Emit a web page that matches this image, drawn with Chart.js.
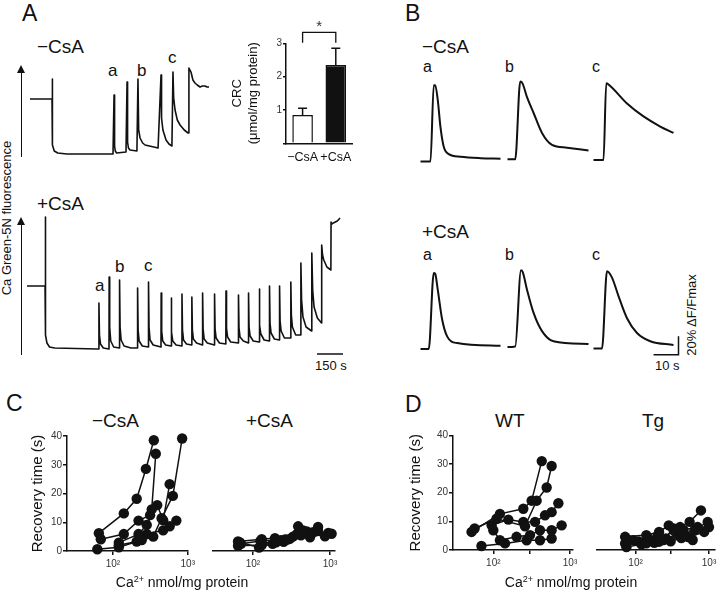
<!DOCTYPE html>
<html>
<head>
<meta charset="utf-8">
<script src="https://cdn.jsdelivr.net/npm/chart.js@4.4.1/dist/chart.umd.min.js"></script>
<style>
  body { margin: 0; background: #fff; }
  #fig { position: relative; width: 720px; height: 591px; overflow: hidden; background: #fff;
         font-family: 'Liberation Sans', Arial, Helvetica, sans-serif; color: #111; }
  #fig canvas, .t, .rot, .arrow { position: absolute; }
  .t { line-height: 1; white-space: nowrap; }
  .rot { line-height: 1; white-space: nowrap; transform: translate(-50%, -50%) rotate(-90deg); }
  .arrow { width: 0; border-left: 1.6px solid #111; }
  .arrow::before { content: ''; position: absolute; left: -4.8px; top: -8px; border-left: 4px solid transparent;
                   border-right: 4px solid transparent; border-bottom: 8px solid #111; }
  .xt { text-align: center; width: 200px; font-size: 14px; }
  sup { font-size: 9px; vertical-align: 5px; }
</style>
</head>
<body>
<div id="fig">
  <!-- panel A -->
  <div class="t" style="left:22px;top:2px;font-size:23px">A</div>
  <div class="t" style="left:37px;top:37px;font-size:19px">−CsA</div>
  <div class="t" style="left:37px;top:194px;font-size:19px">+CsA</div>
  <div class="t" style="left:108px;top:62px;font-size:17px">a</div>
  <div class="t" style="left:137px;top:62px;font-size:17px">b</div>
  <div class="t" style="left:168px;top:49px;font-size:17px">c</div>
  <div class="t" style="left:95px;top:277px;font-size:17px">a</div>
  <div class="t" style="left:115px;top:258px;font-size:17px">b</div>
  <div class="t" style="left:144px;top:257px;font-size:17px">c</div>
  <div class="rot" style="left:6px;top:218px;font-size:13px">Ca Green-5N fluorescence</div>
  <div class="arrow" style="left:21.2px;top:73px;height:84px"></div>
  <div class="arrow" style="left:21.2px;top:225px;height:130px"></div>
  <div class="t" style="left:315px;top:359px;font-size:13px">150 s</div>
  <canvas id="aMinus" width="185" height="100" style="left:30px;top:60px"></canvas>
  <canvas id="aPlus" width="320" height="145" style="left:27px;top:210px"></canvas>
  <canvas id="crc" width="140" height="150" style="left:220px;top:20px"></canvas>

  <!-- panel B -->
  <div class="t" style="left:405px;top:2px;font-size:23px">B</div>
  <div class="t" style="left:422px;top:37px;font-size:19px">−CsA</div>
  <div class="t" style="left:422px;top:222px;font-size:19px">+CsA</div>
  <div class="t" style="left:423px;top:59px;font-size:16px">a</div>
  <div class="t" style="left:505px;top:59px;font-size:16px">b</div>
  <div class="t" style="left:592px;top:59px;font-size:16px">c</div>
  <div class="t" style="left:423px;top:247px;font-size:16px">a</div>
  <div class="t" style="left:505px;top:247px;font-size:16px">b</div>
  <div class="t" style="left:592px;top:247px;font-size:16px">c</div>
  <div class="t" style="left:655px;top:359px;font-size:13px">10 s</div>
  <div class="rot" style="left:691px;top:315px;font-size:13px">20% ΔF/Fmax</div>
  <canvas id="bMinusA" width="85" height="101" style="left:417.5px;top:65px"></canvas>
  <canvas id="bMinusB" width="85" height="101" style="left:504.8px;top:65px"></canvas>
  <canvas id="bMinusC" width="85" height="101" style="left:590.8px;top:65px"></canvas>
  <canvas id="bPlusA" width="85" height="106" style="left:417.5px;top:250px"></canvas>
  <canvas id="bPlusB" width="85" height="106" style="left:504.8px;top:250px"></canvas>
  <canvas id="bPlusC" width="90" height="106" style="left:590.8px;top:250px"></canvas>

  <!-- panels C and D -->
  <div class="t" style="left:6px;top:392px;font-size:23px">C</div>
  <div class="t" style="left:92px;top:411px;font-size:19px">−CsA</div>
  <div class="t" style="left:246px;top:411px;font-size:19px">+CsA</div>
  <div class="t" style="left:405px;top:393px;font-size:23px">D</div>
  <div class="t" style="left:495px;top:411px;font-size:19px">WT</div>
  <div class="t" style="left:642px;top:411px;font-size:19px">Tg</div>
  <canvas id="cMinus" width="180" height="164" style="left:18px;top:426px"></canvas>
  <canvas id="cPlus" width="140" height="164" style="left:205px;top:426px"></canvas>
  <canvas id="dWT" width="183" height="165" style="left:400px;top:425px"></canvas>
  <canvas id="dTg" width="130" height="165" style="left:590px;top:425px"></canvas>
  <div class="t xt" style="left:82px;top:575px">Ca<sup>2+</sup> nmol/mg protein</div>
  <div class="t xt" style="left:471px;top:575px">Ca<sup>2+</sup> nmol/mg protein</div>
</div>

<script>
// ---- A: Ca Green-5N traces, [time (s), fluorescence (a.u.)]
const traceAMinus = [
  [0, 61], [127, 61], [127, 81], [130, 81], [131, 15], [140, 9], [160, 7], [213, 6],
  [479, 6], [485, 65], [488, 14], [492, 9], [500, 7], [554, 8],
  [560, 78], [563, 18], [568, 12], [577, 10], [617, 9],
  [623, 81], [627, 30], [635, 22], [650, 17], [664, 15], [739, 12],
  [756, 85], [759, 42], [767, 30], [785, 20], [802, 16], [819, 14],
  [825, 88], [829, 62], [837, 50], [850, 40], [866, 35], [890, 30], [912, 27],
  [917, 92], [923, 90], [929, 88], [940, 80], [952, 77], [965, 75], [981, 73],
  [995, 74], [1010, 74], [1022, 73], [1033, 73]
];
const traceAPlus = [
  [0, 69], [104, 69], [105, 138], [107, 138], [108, 20], [115, 12], [130, 8], [160, 7], [404, 6],
  [414, 6], [415, 52], [418, 20], [424, 11], [440, 7], [473, 6],
  [474, 78], [477, 28], [483, 14], [500, 8], [533, 7],
  [534, 75], [537, 28], [543, 15], [560, 9], [600, 7], [637, 7],
  [638, 67], [641, 25], [647, 14], [665, 9], [700, 8],
  [701, 73], [704, 28], [710, 15], [728, 10], [773, 8],
  [774, 62], [777, 24], [783, 14], [800, 10], [831, 9],
  [832, 57], [835, 23], [841, 14], [860, 10], [893, 9],
  [894, 61], [897, 25], [903, 15], [920, 11], [950, 10],
  [951, 58], [954, 25], [960, 16], [978, 12], [1012, 10],
  [1013, 62], [1016, 26], [1022, 16], [1040, 12], [1081, 10],
  [1082, 61], [1085, 26], [1091, 17], [1110, 12], [1147, 11],
  [1148, 64], [1151, 27], [1157, 18], [1175, 13], [1219, 12],
  [1220, 60], [1223, 27], [1229, 18], [1248, 14], [1277, 12],
  [1278, 62], [1281, 28], [1287, 19], [1305, 14], [1339, 13],
  [1340, 66], [1343, 30], [1349, 21], [1368, 15], [1398, 14],
  [1399, 69], [1402, 32], [1408, 22], [1427, 16], [1456, 15],
  [1457, 69], [1460, 34], [1466, 24], [1485, 17], [1521, 17],
  [1522, 73], [1525, 40], [1531, 28], [1550, 20], [1579, 20],
  [1580, 92], [1584, 55], [1592, 38], [1610, 28], [1642, 24],
  [1643, 102], [1648, 65], [1656, 48], [1675, 37], [1699, 32],
  [1700, 110], [1705, 100], [1712, 95], [1730, 88], [1753, 85],
  [1754, 133], [1760, 131], [1767, 132], [1790, 134], [1806, 137]
];
const timeBar150 = [1673, 1823, 1];   // from, to, level

// ---- A inset: CRC (µmol/mg protein)
const crcLabels = ['−CsA', '+CsA'];
const crcMeans = [0.85, 2.35];
const crcErrors = [0.2, 0.5];
const sigBracket = { top: 3.33, leg: 3.02, star: 3.36 };

// ---- B: single transients, [time (s), %ΔF/Fmax]
const traceBMinusA = [[0, 0], [4, 0], [5.3, 83], [5.9, 83], [6.9, 67], [8, 37], [9.3, 16], [11.3, 8], [16, 5], [24, 3.5], [32, 3]];
const traceBMinusB = [[0, 2.3], [3.1, 2.3], [5.1, 87], [6, 85], [7.8, 70], [10.4, 53], [13.8, 31], [17.8, 18], [23.8, 15], [32.4, 12]];
const traceBMinusC = [[0, 1.5], [4, 1.5], [5.1, 85], [6.7, 82], [13.4, 63], [20, 49], [26.7, 38], [32, 31]];
const traceBPlusA = [[0, -2.5], [3.3, -2.5], [5.3, 80], [5.9, 79], [6.9, 62], [8.7, 29], [10.7, 11], [14.7, 4], [32, 1]];
const traceBPlusB = [[0, -0.3], [3.1, 0.3], [5.4, 83], [6.1, 81], [7.8, 62], [10.4, 37], [13.8, 17], [18.4, 6], [32.4, 3]];
const traceBPlusC = [[0, -1.9], [3.4, -1.9], [5.4, 82], [7.4, 75], [10, 55], [13.4, 31], [17.4, 15], [22.7, 6], [32, 2]];
const scaleBarB = { t0: 24, t1: 34, y0: -8.7, y1: 11.3 };  // 10 s, 20 %

// ---- C: recovery time (s) vs Ca2+ load (nmol/mg protein)
const cMinus1 = [[65, 6.2], [140, 13.1], [208, 18.2], [276, 28.6], [352, 38.6]];
const cMinus2 = [[69, 4.1], [140, 5.9], [220, 10.6], [314, 12.5], [330, 14.5], [374, 33.9]];
const cMinus3 = [[120, 2.9], [220, 5.9], [283, 9.1], [391, 16.0], [469, 10.7], [573, 23.3]];
const cMinus4 = [[62, 0.6], [120, 1.3], [243, 3.8], [346, 5.0], [447, 11.4], [632, 19.2], [841, 39.2]];
const cMinus5 = [[120, 2.0], [208, 3.3], [284, 5.9], [469, 7.2], [573, 8.6], [704, 10.6]];
const cPlus1 = [[64, 3.3], [130, 4.1], [193, 4.5], [274, 3.9], [386, 8.6], [448, 7.2], [700, 8.4]];
const cPlus2 = [[64, 1.8], [130, 2.1], [200, 3.0], [300, 4.2], [420, 5.5], [600, 6.5], [1050, 6.0]];
const cPlus3 = [[70, 2.5], [125, 3.5], [230, 3.8], [330, 5.0], [500, 6.8], [860, 5.1]];
const cPlus4 = [[68, 3.0], [120, 1.2], [180, 2.5], [260, 4.0], [370, 5.8], [700, 7.0]];
const cPlus5 = [[130, 2.8], [250, 3.2], [400, 6.2], [550, 4.8], [950, 6.3]];

// ---- D: WT and Tg
const dWT1 = [[52, 6.3], [122, 12.6], [246, 14.4], [316, 17.2], [428, 31.0]];
const dWT2 = [[57, 7.5], [110, 10.9], [259, 8.3], [367, 17.2], [496, 21.8], [576, 29.3]];
const dWT3 = [[95, 8.6], [157, 10.6], [246, 9.8], [350, 9.8], [472, 12.1], [576, 13.2], [705, 16.3]];
const dWT4 = [[100, 6.9], [122, 3.4], [201, 4.6], [301, 5.2], [406, 6.9], [576, 6.9], [778, 8.6]];
const dWT5 = [[70, 1.4], [142, 2.3], [272, 3.4], [406, 3.4], [576, 4.0]];
const dTg1 = [[72, 4.6], [140, 5.2], [209, 6.3], [283, 8.6], [404, 8.0], [545, 9.8], [777, 13.8]];
const dTg2 = [[72, 2.3], [93, 3.4], [140, 2.3], [209, 2.9], [329, 6.9], [446, 5.7], [635, 6.9], [960, 9.8]];
const dTg3 = [[75, 1.0], [120, 2.0], [180, 2.5], [260, 4.0], [370, 5.5], [520, 4.5], [860, 6.3]];
const dTg4 = [[80, 3.5], [150, 4.0], [240, 3.5], [330, 7.5], [450, 7.0], [700, 8.0], [1000, 8.0]];
const dTg5 = [[110, 3.0], [200, 5.0], [300, 3.0], [420, 4.2], [600, 3.5]];

const logTicksC = [100, 1000];
const logTicksD = [100, 300, 1000];

Chart.defaults.font.family = "'Liberation Sans', Arial, Helvetica, sans-serif";
Chart.defaults.color = '#111';
Chart.defaults.responsive = false;
Chart.defaults.maintainAspectRatio = false;
Chart.defaults.animation = false;
Chart.defaults.plugins.legend.display = false;
Chart.defaults.plugins.tooltip.enabled = false;

const ink = '#111';
const toXY = pts => pts.map(p => ({ x: p[0], y: p[1] }));

function barPlugin(bar) {
  return {
    id: 'scaleBar',
    afterDraw(chart) {
      const { ctx, scales: { x, y } } = chart;
      ctx.save();
      ctx.strokeStyle = ink;
      ctx.lineWidth = 1.5;
      ctx.beginPath();
      ctx.moveTo(x.getPixelForValue(bar.t0), y.getPixelForValue(bar.y0));
      ctx.lineTo(x.getPixelForValue(bar.t1), y.getPixelForValue(bar.y0));
      if (bar.y1 !== undefined) ctx.lineTo(x.getPixelForValue(bar.t1), y.getPixelForValue(bar.y1));
      ctx.stroke();
      ctx.restore();
    }
  };
}

// smooth = true for the B transients (strictly increasing time), false for A (has vertical steps)
function traceChart(id, pts, xr, yr, width, smooth, extra) {
  return new Chart(document.getElementById(id), {
    type: 'line',
    data: {
      datasets: [{
        data: toXY(pts),
        borderColor: ink,
        borderWidth: width,
        pointRadius: 0,
        tension: 0,
        cubicInterpolationMode: smooth ? 'monotone' : 'default',
        borderJoinStyle: 'round',
        clip: false
      }]
    },
    options: {
      devicePixelRatio: 1,
      layout: { padding: 0 },
      scales: {
        x: { type: 'linear', display: false, min: xr[0], max: xr[1] },
        y: { type: 'linear', display: false, min: yr[0], max: yr[1] }
      }
    },
    plugins: extra ? [extra] : []
  });
}

// A traces
traceChart('aMinus', traceAMinus, [0, 1067.5], [0, 100], 1.6, false);
traceChart('aPlus', traceAPlus, [0, 1846], [0, 145], 1.6, false,
  barPlugin({ t0: timeBar150[0], t1: timeBar150[1], y0: timeBar150[2] }));

// B transients
traceChart('bMinusA', traceBMinusA, [-1, 33], [-5, 105], 2, true);
traceChart('bMinusB', traceBMinusB, [-1, 33], [-5, 105], 2, true);
traceChart('bMinusC', traceBMinusC, [-1, 33], [-5, 105], 2, true);
traceChart('bPlusA', traceBPlusA, [-1, 33], [-10, 105], 2, true);
traceChart('bPlusB', traceBPlusB, [-1, 33], [-10, 105], 2, true);
traceChart('bPlusC', traceBPlusC, [-1, 35], [-10, 105], 2, true, barPlugin(scaleBarB));

// CRC bar inset with error bars and significance bracket
const errorBars = {
  id: 'errorBars',
  afterDatasetsDraw(chart) {
    const { ctx, scales: { y } } = chart;
    const meta = chart.getDatasetMeta(0);
    ctx.save();
    ctx.strokeStyle = ink;
    ctx.lineWidth = 1.5;
    meta.data.forEach((bar, i) => {
      const top = y.getPixelForValue(crcMeans[i] + crcErrors[i]);
      ctx.beginPath();
      ctx.moveTo(bar.x, bar.y);
      ctx.lineTo(bar.x, top);
      ctx.moveTo(bar.x - 4.5, top);
      ctx.lineTo(bar.x + 4.5, top);
      ctx.stroke();
    });
    const x0 = meta.data[0].x, x1 = meta.data[1].x;
    const yb = y.getPixelForValue(sigBracket.top), yl = y.getPixelForValue(sigBracket.leg);
    ctx.lineWidth = 1.3;
    ctx.beginPath();
    ctx.moveTo(x0, yl); ctx.lineTo(x0, yb); ctx.lineTo(x1, yb); ctx.lineTo(x1, yl);
    ctx.stroke();
    ctx.fillStyle = '#333';
    ctx.font = "15px 'Liberation Sans', Arial, sans-serif";
    ctx.textAlign = 'center';
    ctx.textBaseline = 'alphabetic';
    ctx.fillText('*', (x0 + x1) / 2, y.getPixelForValue(sigBracket.star));
    ctx.restore();
  }
};

new Chart(document.getElementById('crc'), {
  type: 'bar',
  data: {
    labels: crcLabels,
    datasets: [{
      data: crcMeans,
      backgroundColor: ['#fff', ink],
      borderColor: ink,
      borderWidth: 1.5,
      borderSkipped: 'bottom',
      barPercentage: 0.62,
      categoryPercentage: 1
    }]
  },
  options: {
    devicePixelRatio: 1,
    layout: { padding: { top: 23.3, right: 7, left: 0, bottom: 0 } },
    scales: {
      x: {
        grid: { display: false, drawTicks: false },
        border: { display: true, color: ink, width: 1.5 },
        ticks: { padding: 7, font: { size: 12.5 }, color: ink, autoSkip: false, maxRotation: 0, minRotation: 0 },
        afterFit: s => { s.height = 26.7; }
      },
      y: {
        min: 0, max: 3,
        ticks: { stepSize: 1, padding: 1, font: { size: 10 }, color: '#333', callback: v => (v === 0 ? '' : v) },
        grid: { drawOnChartArea: false, tickLength: 3, color: ink, lineWidth: 1.5 },
        border: { display: true, color: ink, width: 1.5 },
        title: { display: true, text: ['CRC', '(μmol/mg protein)'], font: { size: 13 }, color: ink, padding: { top: 10, bottom: 0 } },
        afterFit: s => { s.width = 66; }
      }
    }
  },
  plugins: [errorBars]
});

// C and D recovery-time plots
function recoveryChart(id, series, cfg) {
  return new Chart(document.getElementById(id), {
    type: 'scatter',
    data: {
      datasets: series.map(s => ({
        data: toXY(s),
        showLine: true,
        borderColor: ink,
        borderWidth: 1.5,
        pointRadius: 5.2,
        pointBackgroundColor: ink,
        pointBorderColor: ink,
        pointBorderWidth: 0,
        clip: false
      }))
    },
    options: {
      devicePixelRatio: 1,
      layout: { padding: cfg.pad },
      scales: {
        x: {
          type: 'logarithmic',
          bounds: 'data',
          min: cfg.xmin, max: cfg.xmax,
          afterBuildTicks: s => { s.ticks = cfg.xticks.map(v => ({ value: v })); },
          afterFit: s => { s.height = cfg.xh; },
          ticks: {
            autoSkip: false, maxRotation: 0, padding: 3, font: { size: 10 }, color: '#333',
            callback: v => (v === 100 ? '10²' : v === 1000 ? '10³' : '')
          },
          grid: { drawOnChartArea: false, tickLength: 4, color: ink, lineWidth: 1.5 },
          border: { display: true, color: ink, width: 1.5 }
        },
        y: {
          display: cfg.yaxis,
          min: 0, max: 40,
          afterFit: s => { s.width = cfg.yw; },
          ticks: { stepSize: 10, padding: 1, font: { size: 10 }, color: '#333' },
          grid: { drawOnChartArea: false, tickLength: 4, color: ink, lineWidth: 1.5 },
          border: { display: true, color: ink, width: 1.5 },
          title: { display: true, text: 'Recovery time (s)', font: { size: 15 }, color: ink, padding: { top: cfg.tp, bottom: 0 } }
        }
      }
    }
  });
}

recoveryChart('cMinus', [cMinus1, cMinus2, cMinus3, cMinus4, cMinus5],
  { xmin: 24.4, xmax: 1000, xticks: logTicksC, yaxis: true, yw: 49, xh: 39, tp: 11,
    pad: { top: 10.2, right: 10, left: 0, bottom: 0 } });
recoveryChart('cPlus', [cPlus1, cPlus2, cPlus3, cPlus4, cPlus5],
  { xmin: 30.3, xmax: 1161, xticks: logTicksC, yaxis: false, yw: 0, xh: 39, tp: 0,
    pad: { top: 10.2, right: 10, left: 8, bottom: 0 } });
recoveryChart('dWT', [dWT1, dWT2, dWT3, dWT4, dWT5],
  { xmin: 29.8, xmax: 1094, xticks: logTicksD, yaxis: true, yw: 53, xh: 40, tp: 7,
    pad: { top: 10.3, right: 10, left: 0, bottom: 0 } });
recoveryChart('dTg', [dTg1, dTg2, dTg3, dTg4, dTg5],
  { xmin: 29.8, xmax: 1200, xticks: logTicksD, yaxis: false, yw: 0, xh: 40, tp: 0,
    pad: { top: 10.3, right: 1, left: 7, bottom: 0 } });
</script>
</body>
</html>
